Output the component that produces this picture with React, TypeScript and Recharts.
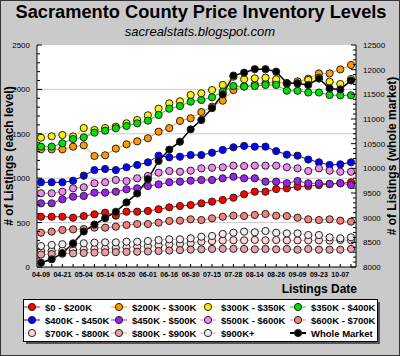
import React from "react";
import { LineChart, Line, XAxis, YAxis, ReferenceLine } from "recharts";

// listing dates (labels shown on every other point)
const dates = [
  "04-09", "04-15", "04-21", "04-27", "05-04", "05-09", "05-14", "05-17", "05-20", "05-26",
  "06-01", "06-08", "06-16", "06-23", "06-30", "07-07", "07-15", "07-21", "07-28", "08-05",
  "08-14", "08-20", "08-26", "09-02", "09-09", "09-16", "09-23", "09-30", "10-07", "10-14",
];

const under200 = [566, 566, 566, 555, 574, 593, 612, 578, 623, 623, 631, 650, 672, 687, 698, 717, 736, 755, 781, 819, 848, 848, 878, 886, 904, 912, 923, 935, 943, 954];
const k200to300 = [1325, 1325, 1325, 1355, 1370, 1250, 1258, 1333, 1382, 1415, 1450, 1524, 1564, 1645, 1675, 1745, 1805, 1873, 1993, 2035, 2055, 2070, 2080, 2065, 2090, 2120, 2180, 2180, 2225, 2275];
const k300to350 = [1456, 1472, 1486, 1470, 1565, 1543, 1565, 1580, 1618, 1655, 1708, 1783, 1843, 1866, 1937, 1956, 1993, 2050, 2143, 2114, 2125, 2132, 2114, 2068, 2068, 2106, 2132, 2087, 2061, 2117];
const k350to400 = [1355, 1355, 1393, 1441, 1460, 1513, 1535, 1562, 1588, 1618, 1648, 1712, 1783, 1813, 1862, 1881, 1911, 1974, 2038, 2031, 2038, 2050, 2050, 1986, 1984, 1965, 1965, 1937, 1933, 1933];
const k400to450 = [954, 954, 954, 972, 1028, 1092, 1104, 1092, 1123, 1149, 1179, 1254, 1235, 1242, 1261, 1261, 1287, 1318, 1348, 1363, 1355, 1355, 1305, 1265, 1254, 1210, 1179, 1149, 1156, 1179];
const k450to500 = [717, 717, 762, 792, 800, 837, 837, 848, 875, 886, 912, 931, 954, 961, 972, 980, 980, 999, 1017, 999, 999, 961, 961, 943, 968, 943, 943, 935, 943, 923];
const k500to600 = [830, 830, 848, 886, 898, 943, 954, 980, 968, 999, 1025, 1062, 1081, 1073, 1085, 1111, 1118, 1122, 1141, 1137, 1141, 1141, 1141, 1123, 1111, 1081, 1111, 1085, 1073, 1073];
const k600to700 = [386, 398, 417, 424, 428, 443, 443, 454, 473, 484, 484, 499, 518, 522, 537, 529, 548, 566, 578, 574, 586, 597, 578, 574, 555, 537, 529, 537, 522, 510];
const k700to800 = [180, 182, 186, 192, 198, 203, 208, 214, 220, 228, 235, 243, 252, 260, 268, 285, 292, 298, 302, 300, 305, 300, 304, 300, 300, 300, 300, 298, 305, 300];
const k800to900 = [140, 145, 150, 153, 158, 162, 165, 168, 170, 172, 175, 180, 185, 190, 196, 199, 203, 205, 205, 203, 199, 203, 199, 203, 195, 203, 195, 195, 195, 203];
const over900 = [236, 248, 256, 259, 267, 274, 278, 278, 285, 285, 293, 304, 312, 312, 323, 341, 349, 372, 386, 398, 391, 405, 386, 379, 379, 360, 360, 334, 323, 334];
const wholeMarket = [8087, 8156, 8280, 8480, 8720, 8860, 8990, 9120, 9310, 9490, 9780, 10150, 10380, 10540, 10790, 10980, 11220, 11500, 11880, 11940, 12010, 12010, 11960, 11730, 11720, 11690, 11820, 11620, 11600, 11780];

const leftLabels = [0, 500, 1000, 1500, 2000, 2500];
const rightLabels = [8000, 8500, 9000, 9500, 10000, 10500, 11000, 11500, 12000, 12500];
const gridValues = [500, 1000, 1500, 2000];

const series = [
  { key: "a", name: "$0 - $200K", color: "#ff0000", values: under200 },
  { key: "b", name: "$200K - $300K", color: "#ff9900", values: k200to300 },
  { key: "c", name: "$300K - $350K", color: "#ffee00", values: k300to350 },
  { key: "d", name: "$350K - $400K", color: "#00e000", values: k350to400 },
  { key: "e", name: "$400K - $450K", color: "#0000ff", values: k400to450 },
  { key: "f", name: "$450K - $500K", color: "#9922ee", values: k450to500 },
  { key: "g", name: "$500K - $600K", color: "#ee88ee", values: k500to600 },
  { key: "h", name: "$600K - $700K", color: "#f08078", values: k600to700 },
  { key: "i", name: "$700K - $800K", color: "#ffd6d6", values: k700to800 },
  { key: "j", name: "$800K - $900K", color: "#e8a0a8", values: k800to900 },
  { key: "k", name: "$900K+", color: "#eeeeee", values: over900 },
  { key: "w", name: "Whole Market", color: "#000000", values: wholeMarket, right: true },
];

const rows = dates.map((d, i) => {
  const row: Record<string, any> = { date: d };
  series.forEach((s) => (row[s.key] = s.values[i]));
  return row;
});

const FONT = "'Liberation Sans', Arial, sans-serif";

const XTick = (props: any) => {
  const { x, y, payload, index } = props;
  return (
    <g>
      <line x1={x} y1={y} x2={x} y2={y - 3} stroke="#000" />
      {index % 2 === 0 && (
        <text x={x} y={y + 10} textAnchor="middle" fontSize={7} fontWeight="bold" fontFamily={FONT} fill="#000">
          {payload.value}
        </text>
      )}
    </g>
  );
};

const makeYTick = (labels: number[], side: "left" | "right") => (props: any) => {
  const { x, y, payload } = props;
  const major = labels.includes(payload.value);
  const len = major ? 5 : 3;
  const dir = side === "left" ? 1 : -1;
  return (
    <g>
      <line x1={x} y1={y} x2={x + dir * len} y2={y} stroke="#000" />
      {major && (
        <text
          x={side === "left" ? x - 7 : x + 7}
          y={y + 3}
          textAnchor={side === "left" ? "end" : "start"}
          fontSize={8}
          fontFamily={FONT}
          fill="#000"
        >
          {payload.value}
        </text>
      )}
    </g>
  );
};

const leftTicks = Array.from({ length: 26 }, (_, i) => i * 100);
const rightTicks = Array.from({ length: 46 }, (_, i) => 8000 + i * 100);

const legendCols = [32, 119, 208, 298];
const legendRows = [307, 320, 333];

export default function App() {
  return (
    <div style={{ position: "absolute", left: 0, top: 0, width: 400, height: 356, background: "#cacaca", overflow: "hidden" }}>
      <svg width={400} height={356} style={{ position: "absolute", left: 0, top: 0 }}>
        <rect x={37} y={45} width={319} height={222} fill="#fff" />
        <text x={201} y={18} textAnchor="middle" fontSize={18} fontWeight="bold" fontFamily={FONT} fill="#000" textLength={371} lengthAdjust="spacingAndGlyphs">
          Sacramento County Price Inventory Levels
        </text>
        <text x={200} y={36} textAnchor="middle" fontSize={13} fontStyle="italic" fontFamily={FONT} fill="#000">
          sacrealstats.blogspot.com
        </text>
        <text transform="translate(13,156) rotate(-90)" textAnchor="middle" fontSize={12} fontWeight="bold" fontFamily={FONT} fill="#000">
          # of Listings (each level)
        </text>
        <text transform="translate(396,156) rotate(-90)" textAnchor="middle" fontSize={12} fontWeight="bold" fontFamily={FONT} fill="#000">
          # of Listings (whole market)
        </text>
        <text x={357} y={293} textAnchor="end" fontSize={12} fontWeight="bold" fontFamily={FONT} fill="#000">
          Listings Date
        </text>
      </svg>
      <div style={{ position: "absolute", left: 0, top: 0 }}>
        <LineChart width={400} height={356} data={rows} margin={{ top: 45, right: 0, left: 0, bottom: 69 }}>
          <XAxis
            dataKey="date"
            interval={0}
            height={20}
            tickSize={0}
            tickMargin={0}
            tickLine={false}
            tick={<XTick />}
            padding={{ left: 4, right: 5 }}
            axisLine={{ stroke: "#000" }}
          />
          <YAxis
            yAxisId="L"
            orientation="left"
            width={37}
            domain={[0, 2500]}
            ticks={leftTicks}
            interval={0}
            tickSize={0}
            tickMargin={0}
            tickLine={false}
            tick={makeYTick(leftLabels, "left")}
            axisLine={{ stroke: "#000" }}
          />
          <YAxis
            yAxisId="R"
            orientation="right"
            width={44}
            domain={[8000, 12500]}
            ticks={rightTicks}
            interval={0}
            tickSize={0}
            tickMargin={0}
            tickLine={false}
            tick={makeYTick(rightLabels, "right")}
            axisLine={{ stroke: "#000" }}
          />
          {gridValues.map((v) => (
            <ReferenceLine key={v} yAxisId="L" y={v} stroke="#cccccc" strokeWidth={1} />
          ))}
          {series.map((s) => (
            <Line
              key={s.key}
              yAxisId={s.right ? "R" : "L"}
              dataKey={s.key}
              name={s.name}
              type="linear"
              stroke={s.color === "#eeeeee" || s.color === "#ffd6d6" ? "#e8b0b0" : s.color}
              strokeWidth={s.right ? 1.5 : 1}
              dot={{ r: 3.6, fill: s.color, stroke: "#222", strokeWidth: 1 }}
              isAnimationActive={false}
            />
          ))}
        </LineChart>
      </div>
      <svg width={400} height={356} style={{ position: "absolute", left: 0, top: 0 }}>
        <rect x={26} y={302} width={354} height={42} fill="#555" />
        <rect x={23.5} y={299.5} width={354} height={42} fill="#fff" stroke="#000" />
        {series.map((s, i) => {
          const cx = legendCols[i % 4];
          const cy = legendRows[Math.floor(i / 4)];
          return (
            <g key={s.key}>
              <line x1={cx - 8} y1={cy} x2={cx + 8} y2={cy} stroke={s.color === "#eeeeee" ? "#e8b0b0" : s.color} strokeWidth={s.right ? 2 : 1} />
              <circle cx={cx} cy={cy} r={3.6} fill={s.color} stroke="#222" />
              <text x={cx + 13} y={cy + 3.5} fontSize={9.5} fontWeight="bold" fontFamily={FONT} fill="#000">
                {s.name}
              </text>
            </g>
          );
        })}
        <rect x={0.5} y={0.5} width={399} height={355} fill="none" stroke="#333" />
      </svg>
    </div>
  );
}
